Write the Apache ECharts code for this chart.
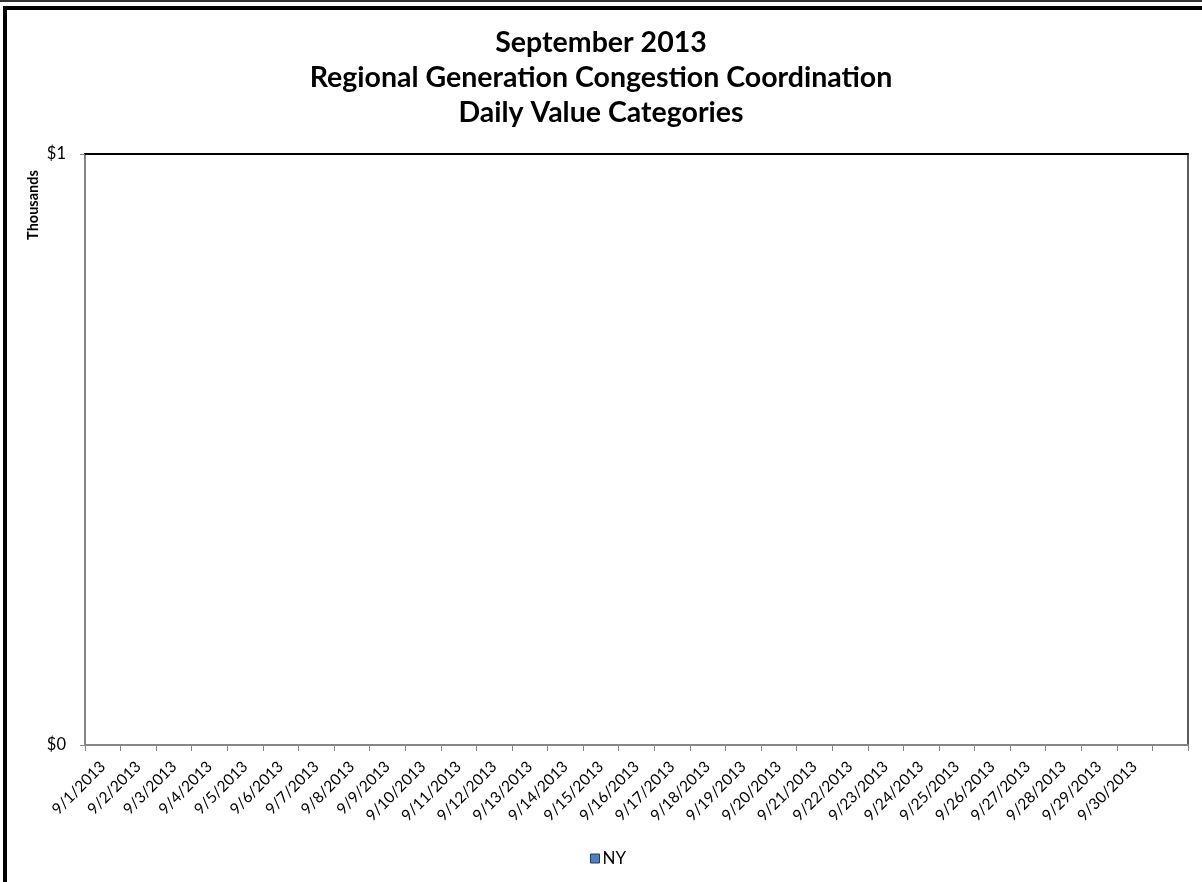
<!DOCTYPE html>
<html>
<head>
<meta charset="utf-8">
<script src="https://cdn.jsdelivr.net/npm/echarts@6/dist/echarts.min.js"></script>
<style>
html,body{margin:0;padding:0;background:#fff;}
#chart{width:1202px;height:882px;}
</style>
</head>
<body>
<div id="chart"></div>
<script>
const categories = ['9/1/2013','9/2/2013','9/3/2013','9/4/2013','9/5/2013','9/6/2013','9/7/2013','9/8/2013','9/9/2013','9/10/2013','9/11/2013','9/12/2013','9/13/2013','9/14/2013','9/15/2013','9/16/2013','9/17/2013','9/18/2013','9/19/2013','9/20/2013','9/21/2013','9/22/2013','9/23/2013','9/24/2013','9/25/2013','9/26/2013','9/27/2013','9/28/2013','9/29/2013','9/30/2013',''];
const nyValues = [0,0,0,0,0,0,0,0,0,0,0,0,0,0,0,0,0,0,0,0,0,0,0,0,0,0,0,0,0,0,0];
const yTicks = [0, 1];
const titleLines = ['September 2013','Regional Generation Congestion Coordination','Daily Value Categories'];

const FONT = 'Lato';
const chart = echarts.init(document.getElementById('chart'));
chart.setOption({
  animation: false,
  backgroundColor: '#fff',
  title: {
    text: titleLines.join('\n'),
    left: 'center',
    top: 20,
    textStyle: {fontFamily: FONT, fontWeight: 'bold', fontSize: 28.5, lineHeight: 35, color: '#000'}
  },
  legend: {
    data: ['NY'],
    bottom: 10,
    left: 585,
    icon: 'rect',
    itemWidth: 9, itemHeight: 9,
    itemGap: 4,
    itemStyle: {borderColor: '#1F3D63', borderWidth: 1},
    textStyle: {fontFamily: FONT, fontSize: 17, color: '#000', padding: [0,0,0,-2]}
  },
  grid: {left: 85, top: 154, right: 14, bottom: 137, containLabel: false},
  xAxis: [{
    type: 'category',
    data: categories,
    boundaryGap: true,
    axisLine: {show: true, lineStyle: {color: '#868686', width: 2}},
    axisTick: {show: true, alignWithLabel: false, length: 6, lineStyle: {color: '#868686'}, interval: 0},
    axisLabel: {interval: 0, rotate: 45, fontFamily: FONT, fontSize: 15.5, color: '#000', margin: 19}
  }, {
    type: 'category',
    data: categories,
    position: 'top',
    axisLine: {show: true, onZero: false, lineStyle: {color: '#000', width: 2}},
    axisTick: {show: false},
    axisLabel: {show: false}
  }],
  yAxis: [{
    type: 'value',
    min: yTicks[0], max: yTicks[yTicks.length-1], interval: 1,
    axisLine: {show: true, lineStyle: {color: '#868686', width: 2}},
    axisTick: {show: true, length: 5, lineStyle: {color: '#868686'}},
    splitLine: {show: false},
    axisLabel: {fontFamily: FONT, fontSize: 16.5, color: '#000', margin: 19, formatter: v => '$' + v}
  }, {
    type: 'value',
    position: 'right',
    min: 0, max: 1,
    axisLine: {show: true, onZero: false, lineStyle: {color: '#595959', width: 2}},
    axisTick: {show: false},
    axisLabel: {show: false},
    splitLine: {show: false}
  }],
  series: [{
    name: 'NY',
    type: 'bar',
    data: nyValues,
    itemStyle: {color: '#4F81BD', borderWidth: 0}
  }],
  graphic: [
    {type: 'rect', shape: {x: 5, y: 8, width: 1300, height: 1000}, style: {fill: 'none', stroke: '#000', lineWidth: 4}, silent: true},
    {type: 'rect', shape: {x: 0, y: 0, width: 1202, height: 2}, style: {fill: '#333'}, silent: true},
    {type: 'text', x: 33, y: 205, rotation: Math.PI/2, style: {text: 'Thousands', fontFamily: FONT, fontWeight: 'bold', fontSize: 14.5, fill: '#000', align: 'center', verticalAlign: 'middle'}}
  ]
});
</script>
</body>
</html>
